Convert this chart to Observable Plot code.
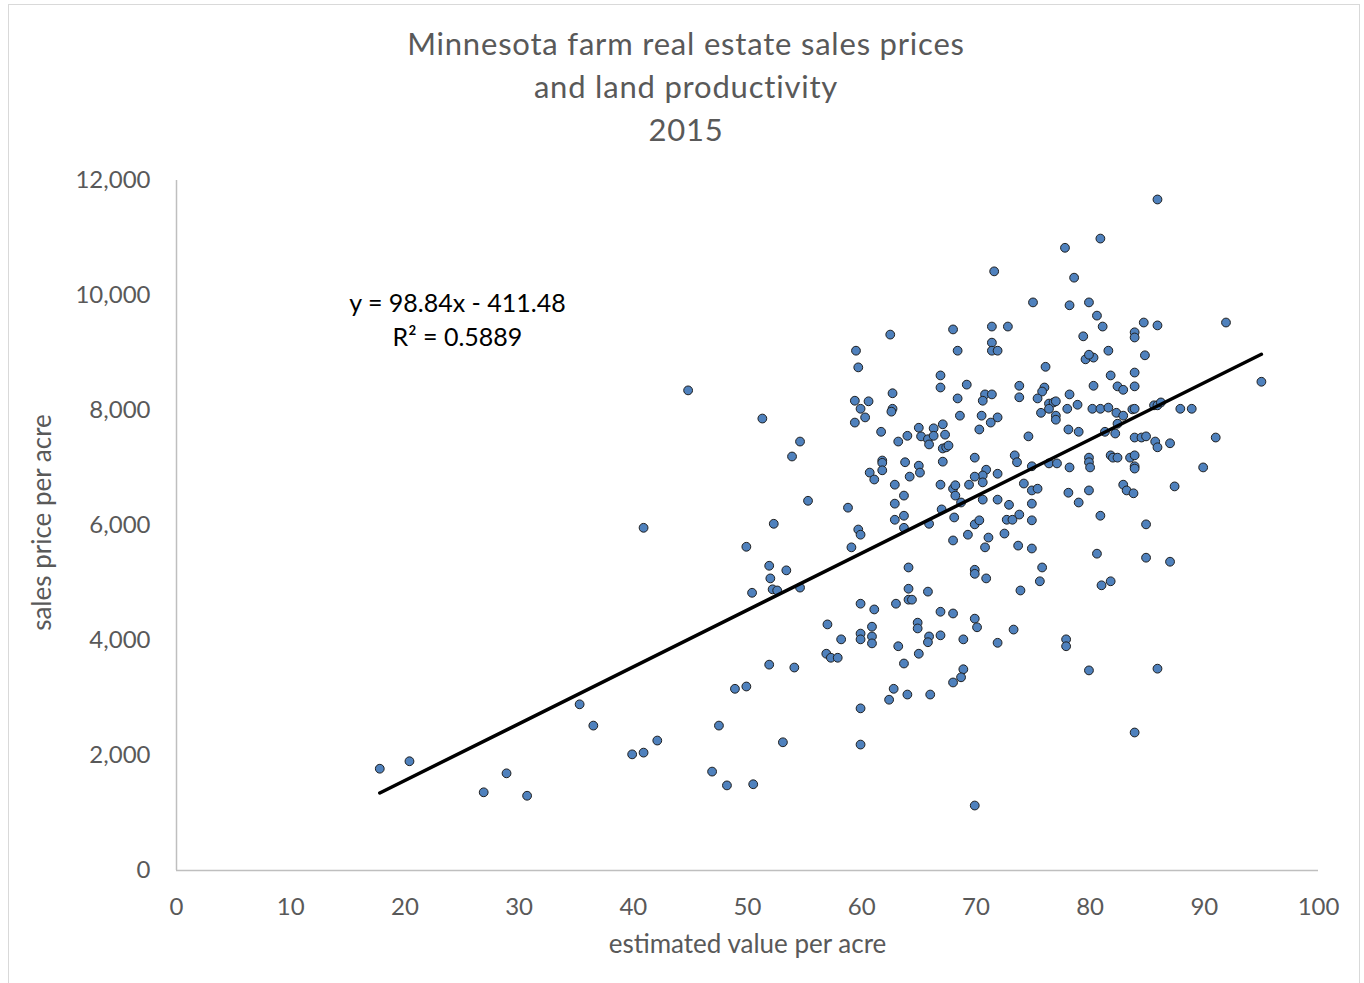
<!DOCTYPE html>
<html>
<head>
<meta charset="utf-8">
<script src="https://cdn.jsdelivr.net/npm/d3@7"></script>
<script src="https://cdn.jsdelivr.net/npm/@observablehq/plot@0.6"></script>
<style>
  html, body { margin: 0; padding: 0; background: #fff; }
  #wrap { position: relative; width: 1364px; height: 983px; overflow: hidden; font-family: Lato, "Open Sans", sans-serif; }
  #frame { position: absolute; left: 8px; top: 4px; width: 1352px; height: 990px; border: 1px solid #d9d9d9; box-sizing: border-box; }
  #title { position: absolute; left: 0; top: 22px; width: 1372px; text-align: center; color: #595959; font-size: 31px; letter-spacing: 0.8px; line-height: 43px; }
  #chart { position: absolute; left: 0; top: 150px; }
</style>
</head>
<body>
<div id="wrap">
  <div id="frame"></div>
  <div id="title">Minnesota farm real estate sales prices<br>and land productivity<br>2015</div>
  <div id="chart"></div>
</div>
<script>
// estimated value per acre (x) and sales price per acre (y)
const estimatedValue = [
  17.8, 20.4, 26.9, 28.9, 30.7, 35.3, 36.5, 39.9, 40.9, 42.1,
  40.9, 44.8, 46.9, 47.5, 48.2, 48.9, 49.9, 50.5, 49.9, 50.4,
  51.3, 51.9, 51.9, 52.0, 52.2, 52.6, 52.3, 53.1, 53.4, 53.9,
  54.1, 54.6, 54.6, 55.3, 58.8, 59.5, 59.7, 59.4, 60.6, 59.9,
  60.3, 59.4, 60.7, 59.7, 59.9, 59.1, 59.9, 57.0, 58.2, 59.9,
  59.9, 56.9, 57.3, 57.9, 59.9, 59.9, 80.9, 77.8, 78.6, 71.6,
  75.0, 78.2, 79.9, 80.6, 81.1, 62.5, 68.0, 71.4, 72.8, 71.4,
  71.4, 71.9, 68.4, 79.4, 81.6, 79.6, 80.3, 79.9, 76.1, 66.9,
  66.9, 62.7, 69.2, 73.8, 73.8, 76.0, 75.8, 75.4, 78.2, 80.3,
  81.8, 68.4, 70.8, 70.6, 71.4, 62.7, 62.6, 78.9, 76.4, 76.8,
  77.0, 75.7, 76.4, 77.0, 77.0, 78.0, 80.2, 80.9, 81.6, 68.6,
  70.5, 71.9, 71.3, 61.7, 65.0, 65.2, 66.3, 67.1, 67.3, 65.8,
  65.9, 66.3, 64.0, 63.2, 67.1, 67.4, 67.6, 67.1, 70.3, 74.6,
  78.1, 79.0, 81.3, 69.9, 73.4, 73.6, 76.4, 77.1, 78.2, 79.9,
  79.9, 80.0, 81.8, 74.9, 61.8, 61.8, 63.8, 65.0, 65.1, 61.1,
  61.8, 64.2, 70.9, 70.6, 69.9, 70.6, 69.4, 71.9, 66.9, 68.0,
  68.2, 68.2, 74.2, 74.9, 75.4, 78.1, 79.9, 62.9, 63.7, 62.9,
  68.7, 67.0, 70.6, 71.9, 72.9, 74.9, 79.0, 63.7, 62.9, 65.9,
  68.1, 69.9, 70.3, 72.7, 73.2, 73.8, 74.9, 80.9, 63.7, 68.0,
  69.3, 71.1, 72.5, 70.8, 73.7, 74.9, 80.6, 64.1, 69.9, 69.9,
  70.9, 75.8, 75.6, 73.9, 81.0, 81.8, 64.1, 64.1, 64.4, 65.8,
  61.1, 63.0, 66.9, 68.0, 69.9, 70.1, 60.9, 60.9, 60.9, 64.9,
  64.9, 65.9, 65.8, 66.9, 68.9, 63.2, 65.0, 63.7, 71.9, 73.3,
  77.9, 77.9, 79.9, 68.9, 68.7, 68.0, 62.8, 62.4, 64.0, 66.0,
  69.9, 85.9, 84.7, 85.9, 91.9, 83.9, 83.9, 84.8, 83.9, 82.4,
  82.9, 83.9, 95.0, 82.3, 82.9, 83.7, 83.9, 85.6, 85.9, 86.2,
  87.9, 88.9, 82.4, 82.2, 83.9, 84.5, 84.9, 85.7, 85.9, 87.0,
  91.0, 82.0, 82.4, 83.5, 83.9, 83.9, 83.9, 89.9, 82.9, 83.2,
  83.8, 87.4, 84.9, 84.9, 87.0, 85.9, 83.9
];
const salesPrice = [
  1770, 1900, 1360, 1690, 1300, 2890, 2520, 2020, 2050, 2260,
  5960, 8350, 1720, 2520, 1480, 3160, 3200, 1500, 5630, 4830,
  7860, 3580, 5300, 5080, 4890, 4870, 6030, 2230, 5220, 7200,
  3530, 7460, 4920, 6430, 6310, 9040, 8750, 8170, 8160, 8030,
  7880, 7790, 6920, 5930, 5840, 5620, 4640, 4280, 4020, 4120,
  4020, 3770, 3700, 3700, 2820, 2190, 10990, 10830, 10310, 10420,
  9880, 9830, 9880, 9650, 9460, 9320, 9410, 9460, 9460, 9180,
  9040, 9040, 9040, 9290, 9040, 8890, 8920, 8970, 8760, 8610,
  8400, 8300, 8450, 8430, 8230, 8400, 8330, 8210, 8280, 8430,
  8610, 8210, 8280, 8170, 8280, 8030, 7980, 8100, 8120, 8140,
  8160, 7960, 8030, 7910, 7840, 8030, 8030, 8030, 8050, 7910,
  7910, 7880, 7790, 7630, 7700, 7550, 7690, 7760, 7580, 7500,
  7410, 7560, 7560, 7460, 7340, 7360, 7390, 7110, 7670, 7550,
  7670, 7630, 7630, 7180, 7220, 7100, 7080, 7080, 7010, 7180,
  7100, 7010, 7220, 7030, 7130, 7090, 7100, 7040, 6920, 6800,
  6960, 6850, 6970, 6870, 6850, 6750, 6710, 6900, 6710, 6640,
  6700, 6520, 6730, 6610, 6640, 6570, 6610, 6710, 6520, 6380,
  6400, 6280, 6450, 6450, 6360, 6380, 6400, 6170, 6100, 6030,
  6140, 6020, 6090, 6100, 6100, 6190, 6090, 6170, 5960, 5740,
  5840, 5790, 5860, 5620, 5650, 5600, 5510, 5270, 5230, 5160,
  5080, 5270, 5030, 4870, 4960, 5030, 4900, 4710, 4710, 4850,
  4540, 4640, 4500, 4470, 4380, 4230, 4240, 4070, 3950, 4310,
  4210, 4070, 3970, 4090, 4020, 3900, 3770, 3600, 3960, 4190,
  4020, 3900, 3480, 3500, 3360, 3270, 3160, 2970, 3060, 3060,
  1130, 11670, 9530, 9480, 9530, 9360, 9270, 8960, 8660, 8420,
  8360, 8420, 8500, 7960, 7910, 8020, 8030, 8090, 8090, 8140,
  8030, 8030, 7770, 7600, 7530, 7530, 7550, 7460, 7360, 7430,
  7530, 7180, 7180, 7180, 7220, 7030, 6990, 7010, 6710, 6610,
  6560, 6680, 6020, 5440, 5370, 3510, 2400
];

// linear trendline y = 98.84x - 411.48, drawn over the data range
const trendX = [17.8, 95.0];
const trendY = [1348, 8978];

const xTicks = [0, 10, 20, 30, 40, 50, 60, 70, 80, 90, 100];
const yTicks = [0, 2000, 4000, 6000, 8000, 10000, 12000];

const xLabel = "estimated value per acre";
const yLabel = "sales price per acre";
const equationText = "y = 98.84x - 411.48\nR\u00b2 = 0.5889";
const equationAt = [24.6, 9610];

const points = estimatedValue.map((v, i) => ({x: v, y: salesPrice[i]}));
const trend = trendX.map((v, i) => ({x: v, y: trendY[i]}));

const chart = Plot.plot({
  width: 1364,
  height: 833,
  marginLeft: 176,
  marginRight: 46,
  marginTop: 30,
  marginBottom: 113,
  style: {fontFamily: "Lato, 'Open Sans', sans-serif", color: "#595959", background: "transparent"},
  x: {domain: [0, 100]},
  y: {domain: [0, 12000]},
  marks: [
    Plot.ruleX([0], {stroke: "#bfbfbf", strokeWidth: 1.5}),
    Plot.ruleY([0], {stroke: "#bfbfbf", strokeWidth: 1.5}),
    Plot.axisX({ticks: xTicks, tickSize: 0, tickPadding: 27, fontSize: 24, label: null, fill: "#595959"}),
    Plot.axisY({ticks: yTicks, tickSize: 0, tickPadding: 26, fontSize: 24, label: null, tickFormat: d3.format(","), fill: "#595959"}),
    Plot.dot(points, {x: "x", y: "y", r: 4.4, fill: "#4f81bd", stroke: "#1f1f1f", strokeWidth: 1}),
    Plot.line(trend, {x: "x", y: "y", stroke: "#000", strokeWidth: 3.5}),
    Plot.text([equationText], {x: equationAt[0], y: equationAt[1], text: d => d, fontSize: 25, fill: "#000", lineHeight: 1.36}),
    Plot.text([xLabel], {frameAnchor: "bottom", dy: 82, text: d => d, fontSize: 26, fill: "#595959"}),
    Plot.text([yLabel], {frameAnchor: "left", dx: -134, dy: -3, rotate: -90, textAnchor: "middle", text: d => d, fontSize: 26, fill: "#595959"})
  ]
});
document.getElementById("chart").appendChild(chart);
</script>
</body>
</html>
